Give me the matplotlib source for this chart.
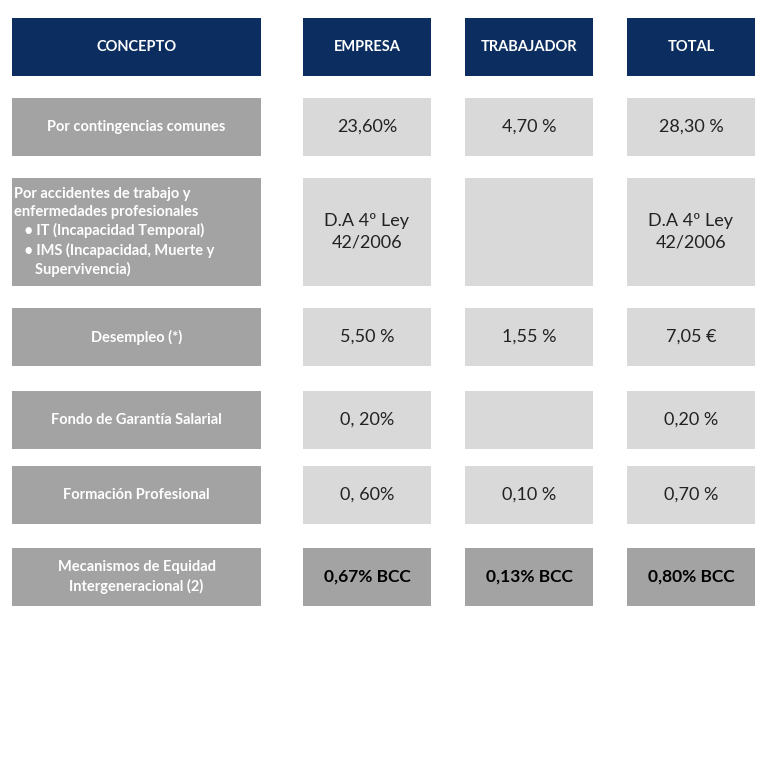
import matplotlib
matplotlib.use("Agg")
import matplotlib.pyplot as plt
from matplotlib.patches import Rectangle

headers = ["CONCEPTO", "EMPRESA", "TRABAJADOR", "TOTAL"]
concepts = ["Por contingencias comunes",
            "Por accidentes de trabajo y\nenfermedades profesionales\n   • IT (Incapacidad Temporal)\n   • IMS (Incapacidad, Muerte y\n      Supervivencia)",
            "Desempleo (*)", "Fondo de Garantía Salarial", "Formación Profesional",
            "Mecanismos de Equidad\nIntergeneracional (2)"]
empresa = ["23,60%", "D.A 4º Ley\n42/2006", "5,50 %", "0, 20%", "0, 60%", "0,67% BCC"]
trabajador = ["4,70 %", "", "1,55 %", "", "0,10 %", "0,13% BCC"]
total = ["28,30 %", "D.A 4º Ley\n42/2006", "7,05 €", "0,20 %", "0,70 %", "0,80% BCC"]

cols = [(12, 261), (303, 431), (465, 593), (627, 755)]
rows = [(98, 156), (178, 286), (308, 366), (391, 449), (466, 524), (548, 606)]
header_row = (18, 76)
NAVY = "#0b2d5f"; DARK = "#a3a3a3"; LIGHT = "#d9d9d9"
FONT = ["Lato", "DejaVu Sans"]

fig = plt.figure(figsize=(7.68, 7.68), dpi=100)
ax = fig.add_axes([0, 0, 1, 1])
ax.set_xlim(0, 768); ax.set_ylim(768, 0); ax.axis("off")

def cell(c, r, color):
    ax.add_patch(Rectangle((c[0], r[0]), c[1]-c[0], r[1]-r[0], color=color, lw=0))

for c, h in zip(cols, headers):
    cell(c, header_row, NAVY)
    ax.text((c[0]+c[1])/2, sum(header_row)/2, h, color="white", fontsize=10.5,
            fontweight="bold", ha="center", va="center", family=FONT)

for i, r in enumerate(rows):
    cy = (r[0]+r[1])/2
    last = i == len(rows)-1
    cell(cols[0], r, DARK)
    if i == 1:
        ax.text(cols[0][0]+2, cy, concepts[i], color="white", fontsize=10.5, fontweight="bold",
                ha="left", va="center", family=FONT, linespacing=1.35)
    else:
        ax.text((cols[0][0]+cols[0][1])/2, cy, concepts[i], color="white", fontsize=10.5,
                fontweight="bold", ha="center", va="center", family=FONT, linespacing=1.4)
    for c, vals in zip(cols[1:], [empresa, trabajador, total]):
        cell(c, r, DARK if last else LIGHT)
        ax.text((c[0]+c[1])/2, cy, vals[i], color="black" if last else "#222222",
                fontsize=13 if not last else 12.5, fontweight="bold" if last else "normal",
                ha="center", va="center", family=FONT, linespacing=1.4)

fig.savefig("out.png", dpi=100, facecolor="white")
